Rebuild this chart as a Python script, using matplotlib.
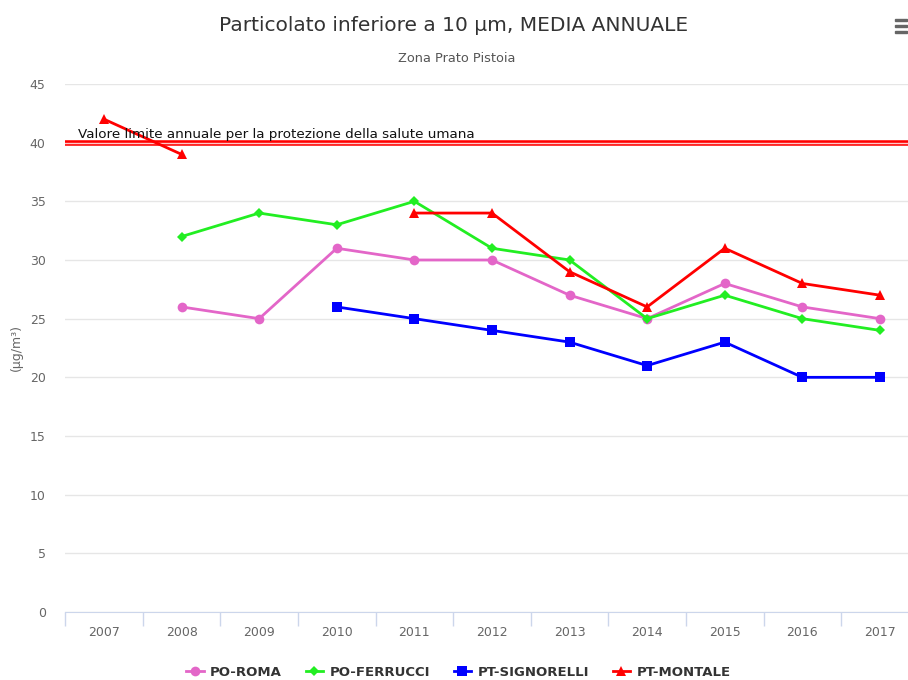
import matplotlib.pyplot as plt
import numpy as np
from matplotlib.patches import Rectangle

years = ['2007', '2008', '2009', '2010', '2011', '2012', '2013', '2014', '2015', '2016', '2017']
po_roma = [None, 26, 25, 31, 30, 30, 27, 25, 28, 26, 25]
po_ferrucci = [None, 32, 34, 33, 35, 31, 30, 25, 27, 25, 24]
pt_signorelli = [None, None, None, 26, 25, 24, 23, 21, 23, 20, 20]
pt_montale = [42, 39, None, None, 34, 34, 29, 26, 31, 28, 27]
limit = 40


def arr(v):
    return np.array([np.nan if x is None else x for x in v], dtype=float)


fig = plt.figure(figsize=(9.08, 6.8), dpi=100)
# the plot area runs a little past the right edge, as in the original
ax = fig.add_axes([0.0718, 0.1, 0.940, 0.7765])

x = np.arange(len(years))
series = [
    ('PO-ROMA', po_roma, '#e366c8', 'o', 7),
    ('PO-FERRUCCI', po_ferrucci, '#22ee22', 'D', 5),
    ('PT-SIGNORELLI', pt_signorelli, '#0000ff', 's', 7),
    ('PT-MONTALE', pt_montale, '#ff0000', '^', 7),
]
for name, vals, col, mk, ms in series:
    ax.plot(x, arr(vals), color=col, lw=2, marker=mk, markersize=ms,
            markeredgewidth=0, label=name, zorder=3)

# plot line at the limit value
ax.axhline(limit, color='#ff0000', lw=4, zorder=2)
ax.axhline(limit, color='#ffc8c8', lw=1, zorder=2)
ax.text(-0.33, limit + 0.12, 'Valore limite annuale per la protezione della salute umana',
        fontsize=9.7, color='#111111', va='bottom', zorder=4)

ax.set_xlim(-0.5, len(years) - 0.5)
ax.set_ylim(0, 45)
ax.set_yticks(range(0, 46, 5))
ax.yaxis.grid(True, color='#e6e6e6', lw=1)
ax.set_axisbelow(True)
ax.set_xticks(x)
ax.set_xticklabels(years)
ax.set_xticks(np.arange(-0.5, len(years), 1), minor=True)
ax.tick_params(axis='x', which='major', length=0, pad=10, labelsize=9, labelcolor='#666666')
ax.tick_params(axis='x', which='minor', length=10, color='#ccd6eb', width=1)
ax.tick_params(axis='y', length=0, pad=14, labelsize=9, labelcolor='#666666')
for s in ['top', 'right', 'left']:
    ax.spines[s].set_visible(False)
ax.spines['bottom'].set_color('#ccd6eb')
ax.set_ylabel('(µg/m³)', color='#666666', fontsize=9)
ax.yaxis.set_label_coords(-0.05, 0.5)

fig.text(0.5, 0.962, 'Particolato inferiore a 10 µm, MEDIA ANNUALE', ha='center',
         va='center', fontsize=14.5, color='#333333')
fig.text(0.503, 0.914, 'Zona Prato Pistoia', ha='center', va='center',
         fontsize=9.3, color='#555555')

# menu icon
for i in range(3):
    fig.add_artist(Rectangle((0.9855, 0.9685 - i * 0.0088), 0.013, 0.0038,
                             transform=fig.transFigure, color='#666666'))

leg = fig.legend(loc='lower center', bbox_to_anchor=(0.505, -0.016), ncol=4,
                 frameon=False, prop={'weight': 'bold', 'size': 9.5},
                 handlelength=1.3, columnspacing=1.8, handletextpad=0.5)
for t in leg.get_texts():
    t.set_color('#333333')

fig.savefig('out.png', dpi=100)
